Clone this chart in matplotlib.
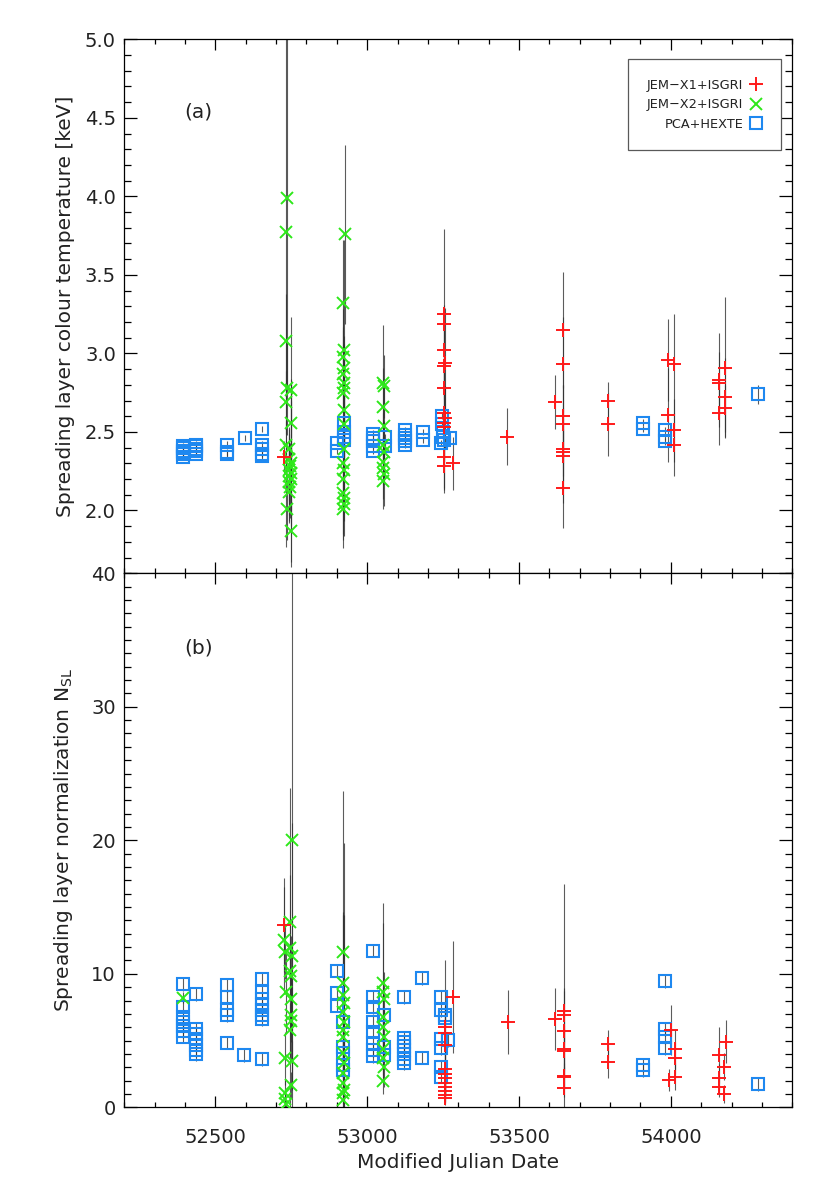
import matplotlib
matplotlib.use("Agg")
import matplotlib.pyplot as plt
from matplotlib.ticker import MultipleLocator

plt.rcParams['font.family'] = ['DejaVu Sans']

# ---------------- DATA ----------------
# Panel (a): colour temperature [keV]
a_jx1_mjd = [52727, 53254, 53254, 53254, 53256, 53254, 53254, 53254, 53255, 53254, 53254, 53254, 53254,
             53284, 53462, 53619, 53646, 53646, 53646, 53646, 53646, 53646, 53646, 53646,
             53792, 53793, 53992, 53992, 54011, 54011, 54011, 54160, 54160, 54160, 54178, 54178, 54178]
a_jx1_val = [2.34, 3.25, 3.19, 3.02, 2.94, 2.92, 2.78, 2.62, 2.59, 2.56, 2.53, 2.34, 2.28,
             2.30, 2.47, 2.69, 3.15, 2.93, 2.60, 2.55, 2.39, 2.37, 2.35, 2.14,
             2.70, 2.55, 2.96, 2.61, 2.93, 2.51, 2.42, 2.83, 2.81, 2.62, 2.91, 2.72, 2.65]
a_jx1_err = [0.10, 0.54, 0.12, 0.25, 0.35, 0.15, 0.40, 0.30, 0.20, 0.25, 0.42, 0.20, 0.15,
             0.17, 0.18, 0.17, 0.37, 0.30, 0.20, 0.25, 0.20, 0.15, 0.30, 0.25,
             0.12, 0.20, 0.26, 0.30, 0.32, 0.20, 0.20, 0.30, 0.20, 0.20, 0.45, 0.25, 0.15]

a_jx2_mjd = [52737, 52731, 52731, 52737, 52750, 52731, 52750, 52731, 52741, 52744, 52748, 52745,
             52742, 52748, 52744, 52749, 52744, 52747, 52744, 52737, 52750,
             52927, 52921, 52922, 52921, 52923, 52921, 52922, 52924, 52921, 52922, 52923, 52922,
             52920, 52923, 52920, 52921, 52922, 52924, 52920,
             53053, 53055, 53053, 53054, 53052, 53054, 53053, 53052, 53054, 53053]
a_jx2_val = [3.99, 3.77, 3.08, 2.78, 2.77, 2.69, 2.56, 2.42, 2.39, 2.33, 2.30, 2.28,
             2.26, 2.24, 2.22, 2.20, 2.18, 2.15, 2.12, 2.01, 1.87,
             3.76, 3.32, 3.02, 2.98, 2.91, 2.87, 2.81, 2.78, 2.75, 2.64, 2.55, 2.39,
             2.30, 2.26, 2.20, 2.11, 2.08, 2.04, 2.01,
             2.81, 2.79, 2.66, 2.54, 2.42, 2.37, 2.31, 2.27, 2.23, 2.19]
a_jx2_err = [1.20, 2.00, 0.30, 0.30, 0.46, 0.20, 0.25, 0.15, 0.10, 0.20, 0.40, 0.15,
             0.20, 0.60, 0.30, 0.20, 0.25, 0.20, 0.15, 0.20, 0.20,
             0.57, 0.40, 0.70, 0.30, 0.20, 0.30, 0.25, 0.20, 0.40, 0.30, 0.25, 0.20,
             0.30, 0.25, 0.35, 0.30, 0.15, 0.20, 0.25,
             0.37, 0.20, 0.25, 0.30, 0.20, 0.20, 0.15, 0.20, 0.20, 0.18]

a_pca_mjd = [52394, 52394, 52394, 52394, 52394, 52394,
             52437, 52437, 52437, 52437, 52437,
             52537, 52537, 52537, 52596,
             52655, 52655, 52655, 52655, 52655,
             52900, 52900, 52925, 52925, 52925, 52925,
             53020, 53020, 53020, 53020, 53020, 53058, 53058,
             53125, 53125, 53125, 53125, 53125, 53183, 53183,
             53246, 53246, 53248, 53250, 53252, 53244, 53273,
             53907, 53907, 53981, 53981, 53981, 54288]
a_pca_val = [2.34, 2.36, 2.37, 2.38, 2.40, 2.41,
             2.36, 2.38, 2.39, 2.41, 2.42,
             2.36, 2.37, 2.42, 2.46,
             2.52, 2.42, 2.39, 2.36, 2.35,
             2.43, 2.38, 2.56, 2.50, 2.47, 2.45,
             2.49, 2.46, 2.44, 2.41, 2.38, 2.47, 2.41,
             2.51, 2.48, 2.46, 2.44, 2.42, 2.50, 2.45,
             2.60, 2.55, 2.50, 2.47, 2.45, 2.43, 2.46,
             2.56, 2.52, 2.51, 2.47, 2.44, 2.74]
a_pca_err = [0.02] * 52 + [0.06]

# Panel (b): normalization N_SL
b_jx1_mjd = [52727, 53256, 53256, 53256, 53256, 53256, 53256, 53256, 53256, 53256, 53256, 53256,
             53284, 53463, 53619, 53647, 53647, 53647, 53647, 53647, 53647, 53647, 53647,
             53792, 53792, 53995, 53999, 54014, 54014, 54014, 54160, 54160, 54160,
             54175, 54175, 54182]
b_jx1_val = [13.65, 6.0, 5.6, 4.7, 2.9, 2.5, 2.2, 1.8, 1.5, 1.2, 0.9, 0.7,
             8.24, 6.37, 6.61, 7.24, 6.9, 5.71, 4.34, 4.2, 2.34, 2.25, 1.47,
             4.74, 3.37, 2.04, 5.79, 4.34, 3.72, 2.29, 3.92, 2.22, 1.54,
             3.04, 1.0, 4.92]
b_jx1_err = [3.5, 5.0, 2.0, 3.0, 2.0, 1.5, 1.2, 1.0, 1.0, 0.8, 0.6, 0.5,
             4.2, 2.4, 2.3, 9.5, 2.0, 3.0, 1.5, 2.0, 1.0, 0.8, 0.7,
             1.05, 1.2, 0.8, 1.9, 1.5, 1.2, 1.0, 2.1, 1.0, 0.8,
             1.0, 0.7, 1.6]

b_jx2_mjd = [52394,
             52751, 52746, 52727, 52746, 52729, 52751, 52747, 52749, 52732, 52750, 52748, 52750,
             52745, 52729, 52751, 52750, 52729, 52730, 52731,
             52921, 52921, 52920, 52922, 52921, 52922, 52921, 52920, 52921, 52922, 52921,
             52920, 52922, 52921, 52920,
             53053, 53052, 53054, 53053, 53052, 53054, 53053, 53052, 53054, 53053]
b_jx2_val = [8.2,
             20.0, 13.9, 12.5, 11.9, 11.6, 11.3, 10.2, 9.8, 8.6, 8.1, 6.9, 6.5,
             5.8, 3.67, 3.5, 1.67, 1.05, 0.6, 0.25,
             11.66, 9.33, 8.4, 7.8, 7.16, 6.4, 5.8, 5.29, 4.04, 3.3, 2.55,
             1.8, 1.3, 1.05, 0.55,
             9.29, 8.6, 8.14, 6.8, 6.04, 5.3, 4.4, 3.67, 3.0, 1.99]
b_jx2_err = [0.4,
             21.0, 3.5, 4.0, 12.0, 2.0, 10.0, 2.0, 3.0, 3.0, 2.0, 2.0, 3.0,
             2.0, 2.0, 1.5, 1.0, 1.0, 0.5, 0.3,
             3.0, 14.4, 6.0, 12.0, 3.0, 8.0, 2.0, 3.0, 2.0, 2.0, 1.5,
             1.0, 1.0, 0.8, 0.5,
             6.0, 5.2, 2.0, 2.0, 3.0, 2.0, 2.0, 1.5, 1.5, 1.0]

b_pca_mjd = [52394, 52394, 52394, 52394, 52394, 52394, 52394,
             52437, 52437, 52437, 52437, 52437, 52437, 52437,
             52537, 52537, 52537, 52537, 52537, 52594,
             52653, 52653, 52653, 52653, 52653, 52653, 52653, 52653,
             52900, 52900, 52900, 52921, 52921, 52921, 52921, 52921,
             53020, 53020, 53020, 53020, 53020, 53020, 53020, 53020,
             53055, 53055, 53055,
             53122, 53122, 53122, 53122, 53122, 53122, 53122, 53122,
             53182, 53182, 53243, 53243, 53243, 53243, 53243, 53243,
             53256, 53256, 53267, 53907, 53907, 53981, 53981, 53981, 53981, 54288]
b_pca_val = [9.2, 7.5, 6.8, 6.4, 6.1, 5.7, 5.3,
             8.5, 5.9, 5.5, 5.1, 4.7, 4.3, 4.0,
             9.16, 8.29, 7.3, 6.91, 4.84, 3.92,
             9.61, 8.61, 8.1, 7.7, 7.3, 6.95, 6.61, 3.60,
             10.23, 8.58, 7.61, 6.41, 4.54, 4.04, 3.17, 2.8,
             11.73, 8.29, 7.5, 6.41, 5.66, 4.8, 4.29, 3.84,
             6.91, 4.54, 3.9,
             8.24, 5.17, 4.9, 4.6, 4.3, 4.0, 3.6, 3.3,
             9.66, 3.72, 8.29, 7.29, 5.1, 4.42, 3.04, 2.3,
             6.91, 6.7, 5.04, 3.17, 2.79, 9.46, 5.84, 5.24, 4.42, 1.72]
b_pca_err = [0.5] * len(b_pca_val)

labels = ['JEM\u2212X1+ISGRI', 'JEM\u2212X2+ISGRI', 'PCA+HEXTE']
colors = ['#FF1A1A', '#2EE81A', '#1E88F0']

# ---------------- FIGURE ----------------
W, H = 830, 1186
fig = plt.figure(figsize=(W / 100, H / 100), dpi=100)
L, R = 124.3 / W, 792.3 / W
ax_a = fig.add_axes([L, 1 - 573.3 / H, R - L, (573.3 - 39.3) / H])
ax_b = fig.add_axes([L, 1 - 1107.3 / H, R - L, (1107.3 - 573.3) / H])

ecol = '0.2'
mk = dict(linestyle='none')
for ax, data in [
    (ax_a, [(a_jx1_mjd, a_jx1_val, a_jx1_err), (a_jx2_mjd, a_jx2_val, a_jx2_err), (a_pca_mjd, a_pca_val, a_pca_err)]),
    (ax_b, [(b_jx1_mjd, b_jx1_val, b_jx1_err), (b_jx2_mjd, b_jx2_val, b_jx2_err), (b_pca_mjd, b_pca_val, b_pca_err)]),
]:
    for (x, y, e) in data:
        ax.errorbar(x, y, yerr=e, fmt='none', ecolor=ecol, elinewidth=0.8, capsize=0, alpha=0.8, zorder=2)
    (x, y, e) = data[2]
    ax.plot(x, y, marker='s', ms=8.2, mfc='none', mec=colors[2], mew=1.5, zorder=3, label=labels[2], **mk)
    (x, y, e) = data[1]
    ax.plot(x, y, marker='x', ms=8.4, color=colors[1], mew=1.4, zorder=4, label=labels[1], **mk)
    (x, y, e) = data[0]
    ax.plot(x, y, marker='+', ms=10.0, color=colors[0], mew=1.4, zorder=5, label=labels[0], **mk)

TICK_FS = 14
LAB_FS = 14.5
for ax in (ax_a, ax_b):
    ax.set_xlim(52200, 54400)
    ax.xaxis.set_major_locator(MultipleLocator(500))
    ax.xaxis.set_minor_locator(MultipleLocator(100))
    ax.tick_params(axis='both', which='both', direction='in', top=True, right=True,
                   width=0.9, labelsize=TICK_FS, colors='black', labelcolor='#222222')
    ax.tick_params(axis='y', which='major', length=9.4, pad=6)
    ax.tick_params(axis='y', which='minor', length=4.8)
    ax.tick_params(axis='x', which='major', length=7.7, pad=15)
    ax.tick_params(axis='x', which='minor', length=3.8)
    for s in ax.spines.values():
        s.set_linewidth(0.9)

ax_a.set_ylim(1.6, 5.0)
ax_a.yaxis.set_major_locator(MultipleLocator(0.5))
ax_a.yaxis.set_minor_locator(MultipleLocator(0.1))
ax_a.tick_params(axis='x', labelbottom=False)
ax_a.set_yticks([2.0, 2.5, 3.0, 3.5, 4.0, 4.5, 5.0])
ax_a.set_yticklabels(['2.0', '2.5', '3.0', '3.5', '4.0', '4.5', '5.0'])

ax_b.set_ylim(0, 40)
ax_b.yaxis.set_major_locator(MultipleLocator(10))
ax_b.yaxis.set_minor_locator(MultipleLocator(1))

ax_a.set_ylabel('Spreading layer colour temperature [keV]', fontsize=LAB_FS, color='#222222')
ax_b.set_ylabel('Spreading layer normalization N$_{\\mathregular{SL}}$', fontsize=LAB_FS, color='#222222')
ax_a.yaxis.set_label_coords(-0.074, 0.5)
ax_b.yaxis.set_label_coords(-0.074, 0.5)
ax_b.set_xlabel('Modified Julian Date', fontsize=LAB_FS, labelpad=4, color='#222222')

ax_a.text(0.09, 0.864, '(a)', transform=ax_a.transAxes, fontsize=LAB_FS, va='center', ha='left', color='#222222')
ax_b.text(0.09, 0.86, '(b)', transform=ax_b.transAxes, fontsize=LAB_FS, va='center', ha='left', color='#222222')

h, l = ax_a.get_legend_handles_labels()
order = [l.index(s) for s in labels]
leg = ax_a.legend([h[i] for i in order], [l[i] for i in order], loc='upper right',
                  bbox_to_anchor=(0.983, 0.9625), borderaxespad=0, markerfirst=False,
                  fontsize=9.3, fancybox=False, framealpha=1, edgecolor='0.35',
                  handlelength=0.9, handletextpad=0.5, labelspacing=0.5, borderpad=1.5,
                  numpoints=1)
leg.get_frame().set_linewidth(0.9)
for t in leg.get_texts():
    t.set_ha('right')
    t.set_color('#222222')

fig.savefig('out.png', dpi=100)
